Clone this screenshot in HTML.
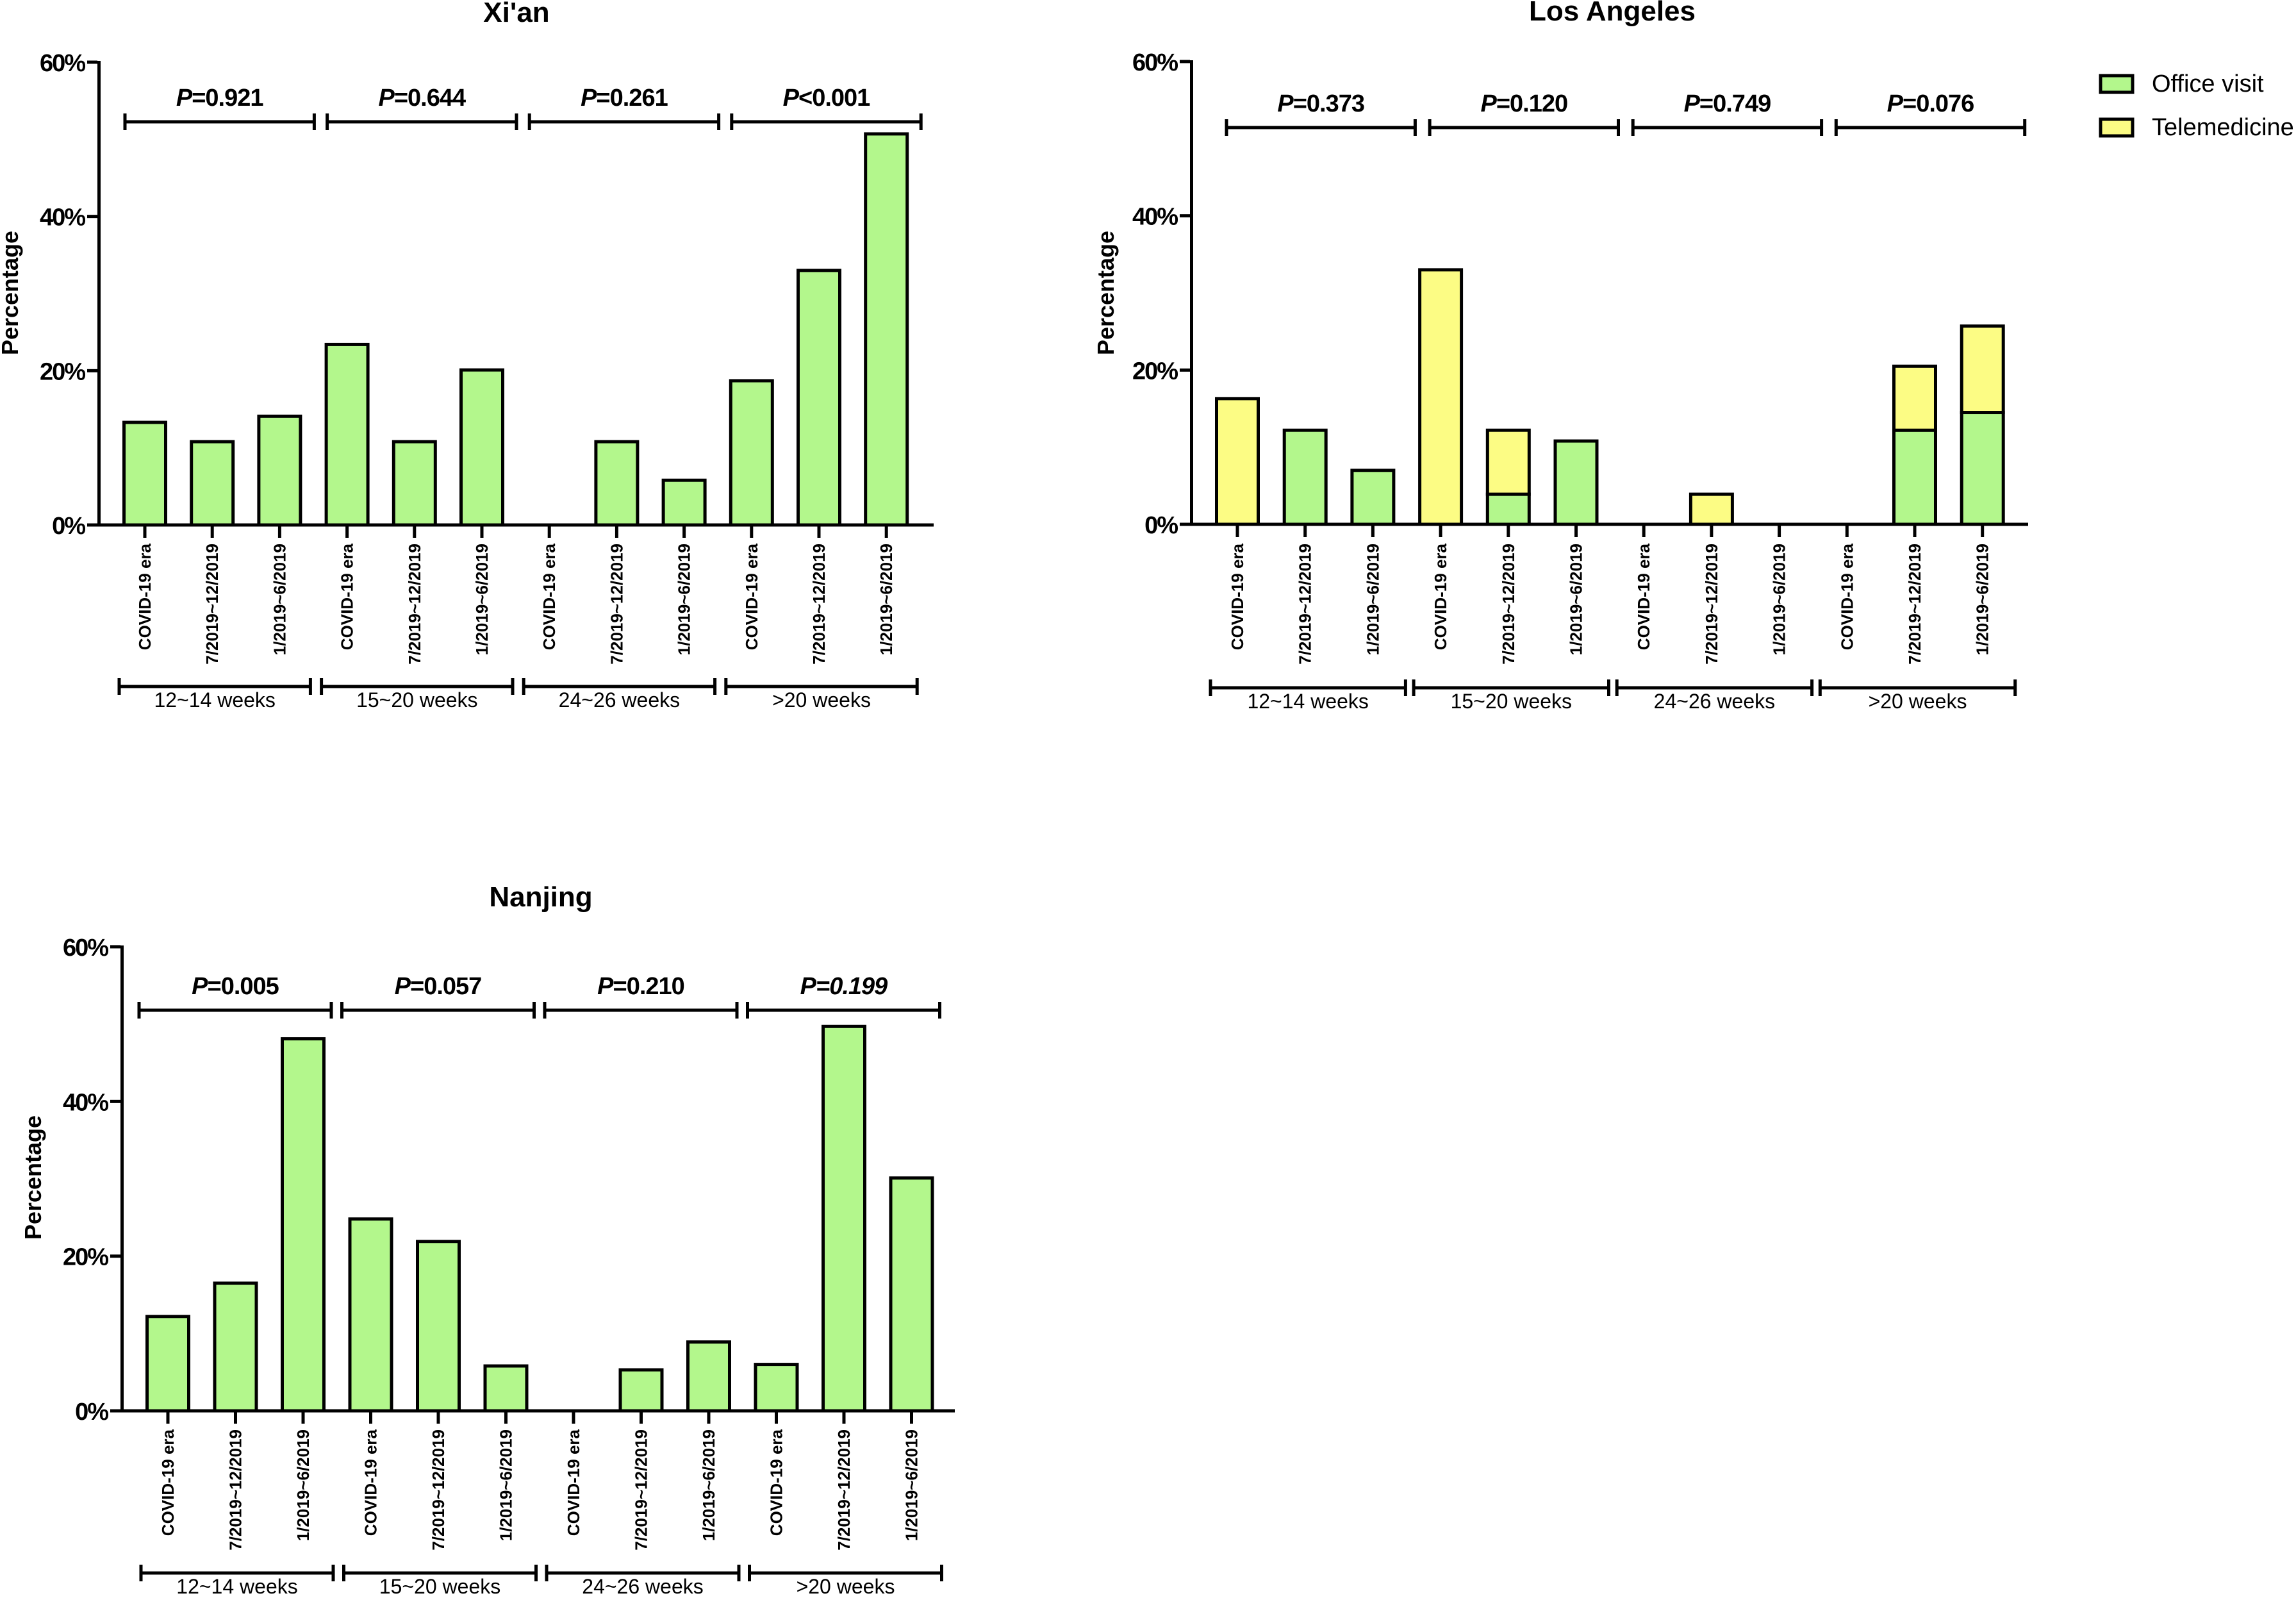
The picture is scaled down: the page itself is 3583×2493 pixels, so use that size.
<!DOCTYPE html>
<html><head><meta charset="utf-8">
<style>
html,body{margin:0;padding:0;background:#fff;}
svg{display:block;font-family:"Liberation Sans",Arial,sans-serif;}
</style></head>
<body>
<svg id="fig" width="3583" height="2493" viewBox="0 0 3583 2493" xmlns="http://www.w3.org/2000/svg"></svg>
<script>
// ---- data ----
const categories = ["COVID-19 era","7/2019~12/2019","1/2019~6/2019","COVID-19 era","7/2019~12/2019","1/2019~6/2019","COVID-19 era","7/2019~12/2019","1/2019~6/2019","COVID-19 era","7/2019~12/2019","1/2019~6/2019"];
const groups = ["12~14 weeks","15~20 weeks","24~26 weeks",">20 weeks"];
const yTicks = [0,20,40,60];
const yTickLabels = ["0%","20%","40%","60%"];
const xianOffice = [13.3,10.8,14.1,23.4,10.8,20.1,0,10.8,5.8,18.7,33.0,50.7];
const xianP = ["0.921","0.644","0.261","<0.001"];
const laOffice = [0,12.2,7.0,0,3.9,10.8,0,0,0,0,12.2,14.5];
const laTele = [16.3,0,0,33.0,8.3,0,0,3.9,0,0,8.3,11.2];
const laP = ["0.373","0.120","0.749","0.076"];
const njOffice = [12.2,16.5,48.1,24.8,21.9,5.8,0,5.3,8.9,6.0,49.7,30.1];
const njP = ["0.005","0.057","0.210","0.199"];

const GREEN="#b3f78c", YELLOW="#fcfc84";
const NS="http://www.w3.org/2000/svg";
const svg=document.getElementById('fig');
function mk(tag,attrs,parent,text){
  const e=document.createElementNS(NS,tag);
  for(const k in attrs) e.setAttribute(k,attrs[k]);
  if(text!==undefined) e.textContent=text;
  (parent||svg).appendChild(e);
  return e;
}

function panel(cfg){
  const g=mk('g',{});
  
  
  const y=v=>cfg.y0-(v/60)*(cfg.y0-cfg.y60);
  const x=i=>cfg.x0+i*cfg.step;
  const bw=65;
  const t=mk('text',{x:cfg.titleX,y:cfg.titleY,'font-size':44,'font-weight':'bold','text-anchor':'middle'},g,cfg.title);
  
  
  const yl=mk('text',{x:0,y:0,'font-size':36,'font-weight':'bold','text-anchor':'middle',transform:`translate(${cfg.ylabX},${cfg.ylabY}) rotate(-90)`},g,'Percentage');
  
  
  for(let i=0;i<categories.length;i++){
    const o=cfg.office[i], tv=cfg.tele?cfg.tele[i]:0;
    if(o>0){
      const r=mk('rect',{x:x(i)-bw/2,y:y(o),width:bw,height:y(0)-y(o),fill:GREEN,stroke:'#000','stroke-width':5},g);
      
      
    }
    if(tv>0){
      const r=mk('rect',{x:x(i)-bw/2,y:y(o+tv),width:bw,height:y(o)-y(o+tv),fill:YELLOW,stroke:'#000','stroke-width':5},g);
      
      
    }
  }
  mk('line',{x1:cfg.x0-74+2.5,y1:y(60)-2,x2:cfg.x0-74+2.5,y2:y(0)+2.5,stroke:'#000','stroke-width':5},g);
  const ax=mk('line',{x1:cfg.x0-74,y1:y(0),x2:cfg.axEnd,y2:y(0),stroke:'#000','stroke-width':5},g);
  
  
  yTicks.forEach((v,k)=>{
    mk('line',{x1:cfg.x0-74-16,y1:y(v),x2:cfg.x0-74,y2:y(v),stroke:'#000','stroke-width':5},g);
    const tl=mk('text',{x:cfg.x0-74-20,y:y(v)+14,'font-size':38,'font-weight':'bold','text-anchor':'end','letter-spacing':'-2'},g,yTickLabels[k]);
    
    
  });
  categories.forEach((c,i)=>{
    mk('line',{x1:x(i),y1:y(0),x2:x(i),y2:y(0)+20,stroke:'#000','stroke-width':5},g);
    const tl=mk('text',{x:0,y:0,'font-size':26,'font-weight':'bold','text-anchor':'end',transform:`translate(${x(i)+9},${cfg.catTop}) rotate(-90)`},g,c);
    
    
  });
  for(let k=0;k<4;k++){
    const a=x(3*k)-cfg.bOff, b=x(3*k+2)+cfg.bOff2;
    mk('line',{x1:a,y1:cfg.pBr,x2:b,y2:cfg.pBr,stroke:'#000','stroke-width':5},g);
    mk('line',{x1:a,y1:cfg.pBr-13,x2:a,y2:cfg.pBr+13,stroke:'#000','stroke-width':5},g);
    mk('line',{x1:b,y1:cfg.pBr-13,x2:b,y2:cfg.pBr+13,stroke:'#000','stroke-width':5},g);
    const pt=mk('text',{x:(a+b)/2,y:cfg.pBr-25,'font-size':38,'font-weight':'bold','text-anchor':'middle','letter-spacing':'-1'},g);
    
    
    mk('tspan',{'font-style':'italic'},pt,'P');
    const pv=cfg.p[k];
    mk('tspan',cfg.italicLast&&k===3?{'font-style':'italic'}:{},pt,(pv[0]==='<'?'':'=')+pv);
    const a2=x(3*k)-cfg.gOff, b2=x(3*k+2)+cfg.gOff2;
    mk('line',{x1:a2,y1:cfg.gBr,x2:b2,y2:cfg.gBr,stroke:'#000','stroke-width':5},g);
    mk('line',{x1:a2,y1:cfg.gBr-13,x2:a2,y2:cfg.gBr+13,stroke:'#000','stroke-width':5},g);
    mk('line',{x1:b2,y1:cfg.gBr-13,x2:b2,y2:cfg.gBr+13,stroke:'#000','stroke-width':5},g);
    const gl=mk('text',{x:(a2+b2)/2,y:cfg.gBr+32,'font-size':32,'text-anchor':'middle'},g,groups[k]);
    
    
  }
}

panel({name:'xian',title:"Xi'an",titleX:806,titleY:34,ylabX:28,ylabY:457,x0:226,step:105.2,y0:819,y60:97,axEnd:1457,catTop:848,pBr:190,gBr:1071,bOff:31,bOff2:54,gOff:40,gOff2:48,office:xianOffice,p:xianP});
panel({name:'los-angeles',title:"Los Angeles",titleX:2516,titleY:32,ylabX:1738,ylabY:457,x0:1931,step:105.7,y0:818,y60:96,axEnd:3165,catTop:848,pBr:199,gBr:1073,bOff:17,bOff2:66,gOff:42,gOff2:51,office:laOffice,tele:laTele,p:laP});
panel({name:'nanjing',title:"Nanjing",titleX:844,titleY:1414,ylabX:64,ylabY:1837,x0:262,step:105.5,y0:2201,y60:1477,axEnd:1490,catTop:2230,pBr:1576,gBr:2454,bOff:45,bOff2:44,gOff:42,gOff2:47,office:njOffice,p:njP,italicLast:true});

const lg=mk('g',{});


const le1=mk('rect',{x:3278,y:118,width:50,height:26,fill:GREEN,stroke:'#000','stroke-width':5},lg);


mk('text',{x:3358,y:143,'font-size':38},lg,'Office visit');
const le2=mk('rect',{x:3278,y:186,width:50,height:26,fill:YELLOW,stroke:'#000','stroke-width':5},lg);


mk('text',{x:3358,y:211,'font-size':38},lg,'Telemedicine');
</script>
</body></html>
